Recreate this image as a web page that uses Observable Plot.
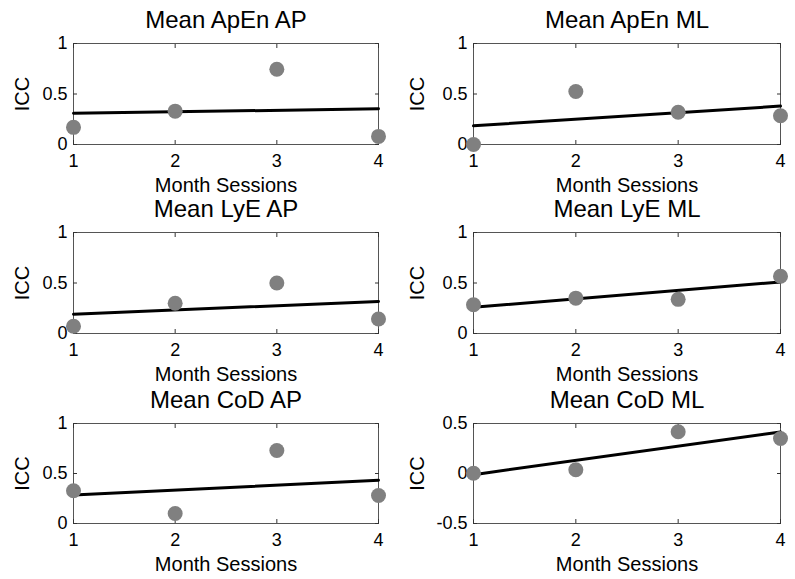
<!DOCTYPE html>
<html><head><meta charset="utf-8">
<script src="https://cdn.jsdelivr.net/npm/d3@7"></script>
<script src="https://cdn.jsdelivr.net/npm/@observablehq/plot@0.6"></script>
<style>
body{margin:0;background:#fff}
#chart{position:relative;width:795px;height:579px;background:#fff;font-family:"Liberation Sans",Arial,sans-serif}
#chart > div{position:absolute}
</style>
</head><body><div id="chart"></div>
<script>
// Data
const sessions = [1, 2, 3, 4];
const xTickLabels = [1, 2, 3, 4];
const titles = ["Mean ApEn AP", "Mean ApEn ML", "Mean LyE AP", "Mean LyE ML", "Mean CoD AP", "Mean CoD ML"];
const apenAP = [0.17, 0.33, 0.745, 0.08];
const apenML = [0.0, 0.525, 0.32, 0.285];
const lyeAP = [0.072, 0.30, 0.50, 0.144];
const lyeML = [0.285, 0.35, 0.338, 0.567];
const codAP = [0.327, 0.10, 0.73, 0.28];
const codML = [0.003, 0.037, 0.417, 0.35];
const yTicksICC = [0, 0.5, 1];
const yTicksCoDML = [-0.5, 0, 0.5];
const xLabel = "Month Sessions";
const yLabel = "ICC";

const series = [apenAP, apenML, lyeAP, lyeML, codAP, codML];
const chart = document.getElementById("chart");

series.forEach((values, i) => {
  const col = i % 2, row = Math.floor(i / 2);
  const yTicks = i === 5 ? yTicksCoDML : yTicksICC;
  const yDomain = [yTicks[0], yTicks[yTicks.length - 1]];
  const data = sessions.map((s, j) => ({session: s, icc: values[j]}));
  const width = col === 0 ? 397 : 398;
  const svg = Plot.plot({
    width,
    height: 199,
    marginLeft: col === 0 ? 73 : 76,
    marginRight: col === 0 ? 19 : 15,
    marginTop: 43,
    marginBottom: row === 2 ? 56 : 55,
    style: {background: "transparent", fontFamily: "Liberation Sans, Arial, sans-serif", fontSize: "18px", color: "#000", overflow: "visible"},
    x: {domain: [1, 4], label: null},
    y: {domain: yDomain, label: null},
    marks: [
      Plot.frame({stroke: "#555"}),
      // tick labels
      Plot.axisX(xTickLabels, {anchor: "bottom", tickSize: 0, tickPadding: 10, tickFormat: d => String(d), label: null}),
      Plot.axisY(yTicks, {anchor: "left", tickSize: 0, tickPadding: 6, tickFormat: d => String(d), label: null}),
      // inward ticks on all four sides
      Plot.axisX(xTickLabels, {anchor: "bottom", tickSize: -4, tickFormat: () => "", label: null, stroke: "#333"}),
      Plot.axisX(xTickLabels, {anchor: "top", tickSize: -4, tickFormat: () => "", label: null, stroke: "#333"}),
      Plot.axisY(yTicks, {anchor: "left", tickSize: -4, tickFormat: () => "", label: null, stroke: "#333"}),
      Plot.axisY(yTicks, {anchor: "right", tickSize: -4, tickFormat: () => "", label: null, stroke: "#333"}),
      Plot.linearRegressionY(data, {x: "session", y: "icc", stroke: "#000", strokeWidth: 3, ci: 0}),
      Plot.dot(data, {x: "session", y: "icc", r: 7.5, fill: "#808080", stroke: null}),
      Plot.text([titles[i]], {text: d => d, frameAnchor: "top", textAnchor: "middle", lineAnchor: "bottom", dy: -16, fontSize: 24}),
      Plot.text([xLabel], {text: d => d, frameAnchor: "bottom", textAnchor: "middle", lineAnchor: "bottom", dy: 47, fontSize: 20}),
      Plot.text([yLabel], {text: d => d, frameAnchor: "left", textAnchor: "middle", lineAnchor: "middle", rotate: -90, dx: col === 0 ? -51 : -56, fontSize: 20})
    ]
  });
  const wrap = document.createElement("div");
  wrap.style.left = (col === 0 ? 0 : 397) + "px";
  wrap.style.top = [0, 189, 380][row] + "px";
  wrap.appendChild(svg);
  chart.appendChild(wrap);
});
</script>
</body></html>
